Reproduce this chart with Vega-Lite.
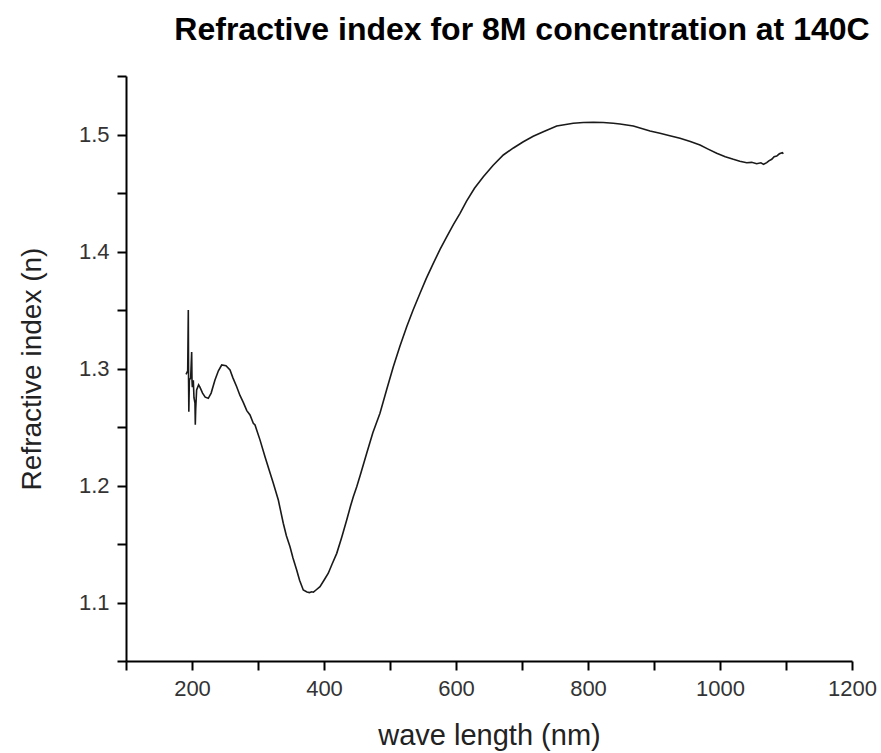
{
  "$schema": "https://vega.github.io/schema/vega-lite/v6.json",
  "autosize": {"type": "none"},
  "padding": {"left": 126, "top": 76, "right": 29, "bottom": 92},
  "width": 726,
  "height": 585,
  "background": "white",
  "title": {
    "text": "Refractive index for 8M concentration at 140C",
    "font": "Liberation Sans",
    "fontSize": 32,
    "fontWeight": "bold",
    "color": "black",
    "anchor": "middle",
    "dx": 33,
    "offset": 18
  },
  "config": {
    "view": {"stroke": null},
    "axis": {
      "domainColor": "black",
      "domainWidth": 2,
      "tickColor": "black",
      "tickWidth": 2,
      "tickSize": 9,
      "grid": false,
      "labelFont": "Liberation Sans",
      "labelFontSize": 22,
      "labelColor": "#333333",
      "labelPadding": 8,
      "titleFont": "Liberation Sans",
      "titleFontSize": 28,
      "titleFontWeight": "normal",
      "titleColor": "#222222"
    }
  },
  "data": {
    "values": [
      {"i": 0, "wl": 191, "n": 1.295},
      {"i": 1, "wl": 193.5, "n": 1.298},
      {"i": 2, "wl": 194.4, "n": 1.35},
      {"i": 3, "wl": 194.8, "n": 1.29},
      {"i": 4, "wl": 195.2, "n": 1.263},
      {"i": 5, "wl": 196, "n": 1.29},
      {"i": 6, "wl": 198, "n": 1.292},
      {"i": 7, "wl": 199.5, "n": 1.314},
      {"i": 8, "wl": 200, "n": 1.29},
      {"i": 9, "wl": 200.5, "n": 1.284},
      {"i": 10, "wl": 202, "n": 1.29},
      {"i": 11, "wl": 203, "n": 1.275},
      {"i": 12, "wl": 204.5, "n": 1.2705},
      {"i": 13, "wl": 205, "n": 1.252},
      {"i": 14, "wl": 205.6, "n": 1.265},
      {"i": 15, "wl": 207, "n": 1.2816},
      {"i": 16, "wl": 210, "n": 1.286},
      {"i": 17, "wl": 212, "n": 1.284},
      {"i": 18, "wl": 216, "n": 1.279},
      {"i": 19, "wl": 220, "n": 1.2755},
      {"i": 20, "wl": 224.7, "n": 1.2745},
      {"i": 21, "wl": 229, "n": 1.279},
      {"i": 22, "wl": 234.8, "n": 1.2902},
      {"i": 23, "wl": 240, "n": 1.298},
      {"i": 24, "wl": 245, "n": 1.303},
      {"i": 25, "wl": 251.5, "n": 1.3024},
      {"i": 26, "wl": 257.6, "n": 1.2987},
      {"i": 27, "wl": 262, "n": 1.292},
      {"i": 28, "wl": 267.7, "n": 1.2844},
      {"i": 29, "wl": 272.7, "n": 1.277},
      {"i": 30, "wl": 277.7, "n": 1.271},
      {"i": 31, "wl": 283, "n": 1.264},
      {"i": 32, "wl": 287.9, "n": 1.2603},
      {"i": 33, "wl": 292.9, "n": 1.2532},
      {"i": 34, "wl": 295.5, "n": 1.2517},
      {"i": 35, "wl": 298, "n": 1.2474},
      {"i": 36, "wl": 303, "n": 1.239},
      {"i": 37, "wl": 310.6, "n": 1.2246},
      {"i": 38, "wl": 317, "n": 1.213},
      {"i": 39, "wl": 323.2, "n": 1.2019},
      {"i": 40, "wl": 330.8, "n": 1.1876},
      {"i": 41, "wl": 338.3, "n": 1.1677},
      {"i": 42, "wl": 343, "n": 1.157},
      {"i": 43, "wl": 348.5, "n": 1.1477},
      {"i": 44, "wl": 353, "n": 1.138},
      {"i": 45, "wl": 358.6, "n": 1.1278},
      {"i": 46, "wl": 363, "n": 1.119},
      {"i": 47, "wl": 368.6, "n": 1.1107},
      {"i": 48, "wl": 374.2, "n": 1.109},
      {"i": 49, "wl": 378, "n": 1.1085},
      {"i": 50, "wl": 381.4, "n": 1.1092},
      {"i": 51, "wl": 384, "n": 1.1088},
      {"i": 52, "wl": 387.9, "n": 1.1107},
      {"i": 53, "wl": 393.9, "n": 1.1135},
      {"i": 54, "wl": 400, "n": 1.119},
      {"i": 55, "wl": 406.5, "n": 1.125},
      {"i": 56, "wl": 412, "n": 1.1325},
      {"i": 57, "wl": 419.3, "n": 1.142},
      {"i": 58, "wl": 427, "n": 1.156},
      {"i": 59, "wl": 434.4, "n": 1.1705},
      {"i": 60, "wl": 440, "n": 1.182},
      {"i": 61, "wl": 444.4, "n": 1.1904},
      {"i": 62, "wl": 449.6, "n": 1.199},
      {"i": 63, "wl": 455, "n": 1.209},
      {"i": 64, "wl": 464.7, "n": 1.2275},
      {"i": 65, "wl": 474, "n": 1.245},
      {"i": 66, "wl": 484.8, "n": 1.2617},
      {"i": 67, "wl": 495, "n": 1.282},
      {"i": 68, "wl": 505, "n": 1.3015},
      {"i": 69, "wl": 515, "n": 1.319},
      {"i": 70, "wl": 525.3, "n": 1.3357},
      {"i": 71, "wl": 535, "n": 1.35},
      {"i": 72, "wl": 545.5, "n": 1.3643},
      {"i": 73, "wl": 555, "n": 1.377},
      {"i": 74, "wl": 565.6, "n": 1.3899},
      {"i": 75, "wl": 576, "n": 1.402},
      {"i": 76, "wl": 585.9, "n": 1.4126},
      {"i": 77, "wl": 596, "n": 1.423},
      {"i": 78, "wl": 606.1, "n": 1.4326},
      {"i": 79, "wl": 616, "n": 1.443},
      {"i": 80, "wl": 628, "n": 1.454},
      {"i": 81, "wl": 641.4, "n": 1.4639},
      {"i": 82, "wl": 656, "n": 1.4735},
      {"i": 83, "wl": 671.7, "n": 1.4825},
      {"i": 84, "wl": 687, "n": 1.4885},
      {"i": 85, "wl": 702, "n": 1.4938},
      {"i": 86, "wl": 717, "n": 1.4985},
      {"i": 87, "wl": 732.3, "n": 1.5024},
      {"i": 88, "wl": 752.6, "n": 1.5073},
      {"i": 89, "wl": 777.7, "n": 1.5096},
      {"i": 90, "wl": 793, "n": 1.5102},
      {"i": 91, "wl": 808, "n": 1.5104},
      {"i": 92, "wl": 823, "n": 1.5102},
      {"i": 93, "wl": 838.3, "n": 1.5096},
      {"i": 94, "wl": 848.5, "n": 1.509},
      {"i": 95, "wl": 868.7, "n": 1.5073},
      {"i": 96, "wl": 894, "n": 1.503},
      {"i": 97, "wl": 909.1, "n": 1.501},
      {"i": 98, "wl": 924, "n": 1.499},
      {"i": 99, "wl": 939.4, "n": 1.4968},
      {"i": 100, "wl": 955, "n": 1.494},
      {"i": 101, "wl": 969.7, "n": 1.491},
      {"i": 102, "wl": 982, "n": 1.4875},
      {"i": 103, "wl": 995, "n": 1.4839},
      {"i": 104, "wl": 1008, "n": 1.481},
      {"i": 105, "wl": 1020.2, "n": 1.4788},
      {"i": 106, "wl": 1030, "n": 1.4772},
      {"i": 107, "wl": 1040.5, "n": 1.4759},
      {"i": 108, "wl": 1048, "n": 1.4762},
      {"i": 109, "wl": 1055.6, "n": 1.475},
      {"i": 110, "wl": 1062, "n": 1.4758},
      {"i": 111, "wl": 1066, "n": 1.4745},
      {"i": 112, "wl": 1070.8, "n": 1.4759},
      {"i": 113, "wl": 1074, "n": 1.4775},
      {"i": 114, "wl": 1078.4, "n": 1.4788},
      {"i": 115, "wl": 1082, "n": 1.481},
      {"i": 116, "wl": 1085.9, "n": 1.4816},
      {"i": 117, "wl": 1090, "n": 1.4835},
      {"i": 118, "wl": 1094.4, "n": 1.4845},
      {"i": 119, "wl": 1096, "n": 1.4835}
    ]
  },
  "mark": {"type": "line", "color": "#1a1a1a", "strokeWidth": 1.6, "clip": true},
  "encoding": {
    "order": {"field": "i", "type": "quantitative"},
    "x": {
      "field": "wl",
      "type": "quantitative",
      "scale": {"domain": [100, 1200], "nice": false, "zero": false},
      "axis": {
        "title": "wave length (nm)",
        "titleFontSize": 29,
        "titlePadding": 22,
        "values": [100, 200, 300, 400, 500, 600, 700, 800, 900, 1000, 1100, 1200],
        "labelExpr": "datum.value % 200 === 0 ? format(datum.value, 'd') : ''",
        "labelFlush": false,
        "labelOverlap": false,
        "encode": {"ticks": {"update": {"y2": {"signal": "datum.value % 200 === 0 ? 9 : 4"}}}}
      }
    },
    "y": {
      "field": "n",
      "type": "quantitative",
      "scale": {"domain": [1.05, 1.55], "nice": false, "zero": false},
      "axis": {
        "title": "Refractive index (n)",
        "titlePadding": 32,
        "values": [1.05, 1.1, 1.15, 1.2, 1.25, 1.3, 1.35, 1.4, 1.45, 1.5, 1.55],
        "labelExpr": "round(datum.value * 20) % 2 === 0 ? format(datum.value, '.1f') : ''",
        "labelFlush": false,
        "labelOverlap": false,
        "encode": {"ticks": {"update": {"x2": {"signal": "round(datum.value * 20) % 2 === 0 ? -9 : -4"}}}}
      }
    }
  }
}
